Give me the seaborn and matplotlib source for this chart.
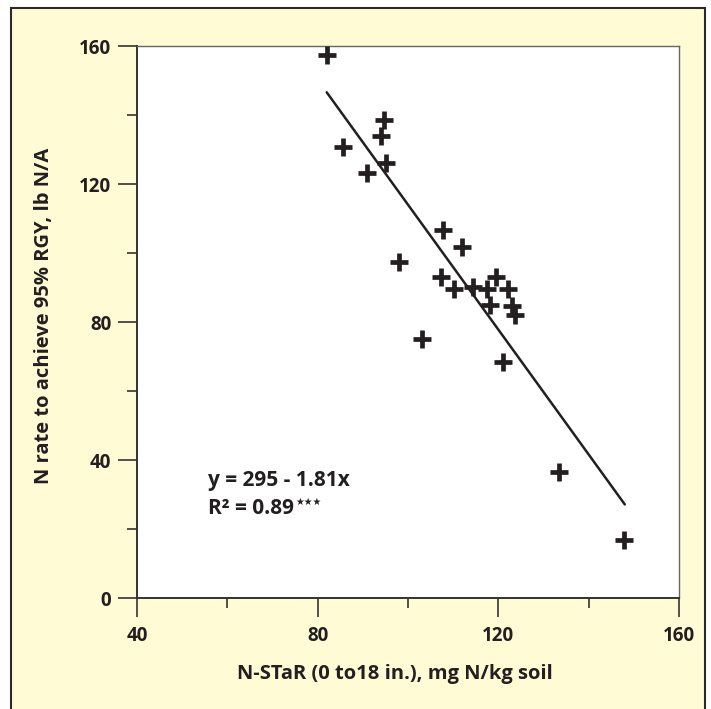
"""
N rate to achieve 95% RGY vs N-STaR, scatter with fitted line.
"""

import matplotlib.pyplot as plt
import matplotlib.patches as patches
from matplotlib.ticker import MultipleLocator
import seaborn as sns
import numpy as np
import pandas as pd

# Data
nstar = [82.1, 85.6, 90.9, 94.7, 94.0, 95.1, 98.0, 107.7, 112.0, 107.3,
         110.2, 114.4, 117.5, 119.5, 122.1, 118.1, 123.0, 123.7, 103.1,
         121.0, 133.4, 147.8]
n_rate = [157.4, 130.7, 123.2, 138.6, 133.9, 126.1, 97.4, 106.7, 101.7, 93.0,
          89.6, 90.1, 89.6, 93.0, 89.6, 84.9, 84.6, 82.0, 75.0,
          68.4, 36.5, 16.8]

# Regression line y = 295 - 1.81x over the data range
intercept = 295
slope = -1.81
fit_range = [82, 148]

x_ticks = [40, 80, 120, 160]
y_ticks = [0, 40, 80, 120, 160]

ink = '#231f20'
paper = '#fffbd4'

sns.set_theme(style='white')
plt.rcParams['font.family'] = ['Open Sans', 'DejaVu Sans']
plt.rcParams['font.weight'] = 'bold'

df = pd.DataFrame({'nstar': nstar, 'n_rate': n_rate})
fit_x = np.array(fit_range, dtype=float)
fit = pd.DataFrame({'x': fit_x, 'y': intercept + slope * fit_x})

fig = plt.figure(figsize=(7.11, 7.09), dpi=100)
fig.patch.set_facecolor('white')

# Yellow panel with dark border
frame = patches.Rectangle((11 / 711, -0.02), (705 - 11) / 711, 1.02 - 8 / 709,
                          transform=fig.transFigure, facecolor=paper,
                          edgecolor='#2a2a2a', linewidth=1.5, zorder=-10)
fig.patches.append(frame)

ax = fig.add_axes([137 / 711, (709 - 598) / 709, (679 - 137) / 711, (598 - 46) / 709])
ax.set_facecolor('white')

sns.lineplot(data=fit, x='x', y='y', ax=ax, color=ink, linewidth=1.8)
sns.scatterplot(data=df, x='nstar', y='n_rate', ax=ax, marker='+', s=170,
                color=ink, linewidth=3.4, zorder=3)

ax.set_xlim(40, 160)
ax.set_ylim(0, 160)
ax.set_xticks(x_ticks)
ax.set_yticks(y_ticks)
ax.xaxis.set_minor_locator(MultipleLocator(20))
ax.yaxis.set_minor_locator(MultipleLocator(20))

ax.tick_params(which='major', direction='out', length=13.5, width=1.2,
               color='#333333', labelsize=13.5, labelcolor=ink,
               bottom=True, left=True)
ax.tick_params(which='minor', direction='out', length=7.5, width=1.2,
               color='#333333', bottom=True, left=True)
ax.tick_params(axis='x', pad=7)
ax.tick_params(axis='y', pad=5)
for lab in ax.get_xticklabels() + ax.get_yticklabels():
    lab.set_fontweight('bold')

for side in ['left', 'bottom']:
    ax.spines[side].set_color('#333333')
    ax.spines[side].set_linewidth(1.4)
for side in ['top', 'right']:
    ax.spines[side].set_color('#666666')
    ax.spines[side].set_linewidth(1.0)

ax.set_xlabel('N-STaR (0 to18 in.), mg N/kg soil', fontsize=14.5,
              fontweight='bold', color=ink)
ax.set_ylabel('N rate to achieve 95% RGY, lb N/A', fontsize=14.5,
              fontweight='bold', color=ink)
ax.xaxis.set_label_coords((395 - 137) / 542, -(664 - 598) / 552)
ax.yaxis.set_label_coords(-(137 - 54) / 542, (598 - 316) / 552)

ax.text(55.7, 34.2, 'y = 295 - 1.81x', fontsize=15, fontweight='bold',
        color=ink, va='center')
r2 = ax.text(55.7, 26.0, 'R² = 0.89', fontsize=15, fontweight='bold',
             color=ink, va='center')
ax.annotate('★★★', xy=(1.0, 0.78), xycoords=r2, fontsize=7,
            color=ink, family='DejaVu Sans', va='center', ha='left',
            xytext=(1, 0), textcoords='offset points')

plt.savefig('out.png', dpi=100, facecolor=fig.get_facecolor())
plt.close()
